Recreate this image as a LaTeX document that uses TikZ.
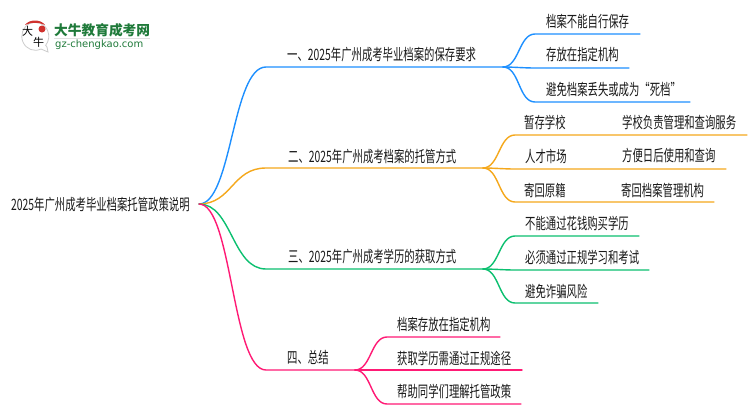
\documentclass[tikz,border=0pt]{standalone}
\usepackage{fontspec}
\setmainfont[FakeStretch=0.66]{Noto Sans CJK SC}
\newfontfamily\logofont{Noto Sans CJK SC}
\newfontfamily\logolatin{DejaVu Sans}
\definecolor{bluelink}{HTML}{1E90FF}
\definecolor{orangelink}{HTML}{F5A81C}
\definecolor{greenlink}{HTML}{0CC070}
\definecolor{pinklink}{HTML}{FF1A75}
\definecolor{logogreen}{HTML}{1F7A3A}
\definecolor{logored}{HTML}{D0312D}
\tikzset{
  label/.style = {anchor=west, inner sep=0pt, text=black!90, font=\fontsize{15.7}{17}\selectfont},
  link/.style = {line width=1.4pt, line cap=round},
  curved/.style = {out=0, in=180, looseness=0.9}
}

\begin{document}
\begin{tikzpicture}[x=1pt, y=-1pt]
            \useasboundingbox (0,0) rectangle (750,410);
            \fill[white] (0,0) rectangle (750,410);

            %logo
            \filldraw[draw=black!20, fill=white, line width=0.8pt] (47,47) -- (48,52) -- (41,49) arc (65:400:13.5 and 14) -- cycle;
            \fill[logored] (25,25) .. controls (29,19) and (41,19) .. (45,25) .. controls (39,22) and (31,22) .. (25,25) -- cycle;
            \fill[logored] (42,29) circle (3.5);
            \node[inner sep=0pt, font=\logofont\fontsize{11}{11}\selectfont] (logobig) at (27.5,31.5) {大};
            \node[inner sep=0pt, font=\logofont\fontsize{11}{11}\selectfont] (logoniu) at (38.5,42.5) {牛};
            \node[anchor=west, inner sep=0pt, text=logogreen, font=\logofont\bfseries\fontsize{13.7}{14}\selectfont] (logoname) at (54,30) {大牛教育成考网};
            \draw[black!12, line width=0.8pt] (logoname.south west) ++(0,1.5) -- ++(96,0);
            \node[anchor=west, inner sep=0pt, text=logogreen, font=\logolatin\fontsize{10}{12}\selectfont] (logourl) at (55,45) {gz-chengkao.com};

            %texts
            \node[label] (root) at (11,205) {2025年广州成考毕业档案托管政策说明};

            \node[label] (one) at (287,55) {一、2025年广州成考毕业档案的保存要求};
            \node[label] (onea) at (546,22) {档案不能自行保存};
            \node[label] (oneb) at (546,55) {存放在指定机构};
            \node[label] (onec) at (546,90) {避免档案丢失或成为“死档”};

            \node[label] (two) at (288,157) {二、2025年广州成考档案的托管方式};
            \node[label] (twoa) at (524,122) {暂存学校};
            \node[label] (twoaa) at (622,122) {学校负责管理和查询服务};
            \node[label] (twob) at (525,156) {人才市场};
            \node[label] (twobb) at (622,156) {方便日后使用和查询};
            \node[label] (twoc) at (524,190) {寄回原籍};
            \node[label] (twocc) at (621,190) {寄回档案管理机构};

            \node[label] (three) at (288,257) {三、2025年广州成考学历的获取方式};
            \node[label] (threea) at (525,223) {不能通过花钱购买学历};
            \node[label] (threeb) at (525,257) {必须通过正规学习和考试};
            \node[label] (threec) at (525,291) {避免诈骗风险};

            \node[label] (four) at (287,358) {四、总结};
            \node[label] (foura) at (397,324) {档案存放在指定机构};
            \node[label] (fourb) at (397,358) {获取学历需通过正规途径};
            \node[label] (fourc) at (397,391) {帮助同学们理解托管政策};

            %junctions
            \coordinate (start) at (199,204);
            \coordinate (onein) at (266,67);
            \coordinate (onejoin) at (503,67);
            \coordinate (twoin) at (266,168);
            \coordinate (twojoin) at (483,168);
            \coordinate (threein) at (266,269);
            \coordinate (threejoin) at (483,269);
            \coordinate (fourin) at (266,370);
            \coordinate (fourjoin) at (355,370);

            %blue
            \draw[link, bluelink] (start) .. controls (232,204) and (232,67) .. (onein) -- (onejoin);
            \draw[link, bluelink] (onejoin) to[curved] (535,34) -- (640,34);
            \draw[link, bluelink] (onejoin) to[curved] (535,68) -- (629,68);
            \draw[link, bluelink] (onejoin) to[curved] (535,102) -- (690,102);

            %orange
            \draw[link, orangelink] (start) .. controls (232,204) and (232,168) .. (twoin) -- (twojoin);
            \draw[link, orangelink] (twojoin) to[curved] (515,135) -- (747,135);
            \draw[link, orangelink] (twojoin) to[curved] (515,169) -- (726,169);
            \draw[link, orangelink] (twojoin) to[curved] (515,202) -- (714,202);

            %green
            \draw[link, greenlink] (start) .. controls (232,204) and (232,269) .. (threein) -- (threejoin);
            \draw[link, greenlink] (threejoin) to[curved] (515,236) -- (639,236);
            \draw[link, greenlink] (threejoin) to[curved] (515,270) -- (649,270);
            \draw[link, greenlink] (threejoin) to[curved] (515,303) -- (598,303);

            %pink
            \draw[link, pinklink] (start) .. controls (232,204) and (232,370) .. (fourin) -- (fourjoin);
            \draw[link, pinklink] (fourjoin) to[curved] (387,337) -- (500,337);
            \draw[link, pinklink] (fourjoin) to[curved] (387,370) -- (522,370);
            \draw[link, pinklink] (fourjoin) to[curved] (387,404) -- (521,404);

\end{tikzpicture}
\end{document}
